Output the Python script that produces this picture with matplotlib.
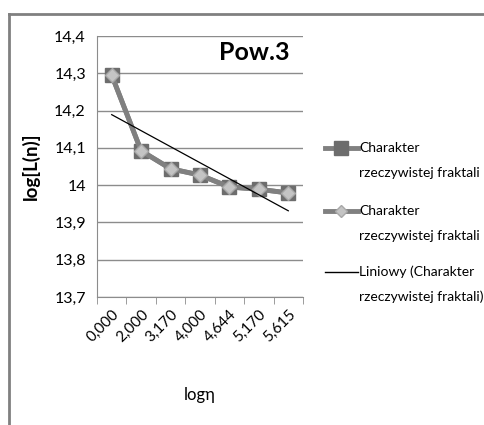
import numpy as np
import matplotlib
matplotlib.use("Agg")
import matplotlib.pyplot as plt
from matplotlib.lines import Line2D

plt.rcParams['font.family'] = ['Lato', 'DejaVu Sans']

categories = ["0,000", "2,000", "3,170", "4,000", "4,644", "5,170", "5,615"]
series_a = [14.295, 14.092, 14.044, 14.027, 13.995, 13.989, 13.979]
series_b = [14.295, 14.092, 14.044, 14.027, 13.995, 13.989, 13.979]
yticks = [13.7, 13.8, 13.9, 14.0, 14.1, 14.2, 14.3, 14.4]
ytick_labels = ["13,7", "13,8", "13,9", "14", "14,1", "14,2", "14,3", "14,4"]
series_name = ["Charakter", "rzeczywistej fraktali"]
trend_name = ["Liniowy (Charakter", "rzeczywistej fraktali)"]

W, H = 484, 425
fig = plt.figure(figsize=(W / 100, H / 100), dpi=100)
fig.patch.set_facecolor('white')


def fx(px):
    return px / W


def fy(py):
    return 1 - py / H


# chart frame (left and top edges visible)
fig.add_artist(Line2D([fx(9), fx(9)], [0, fy(14)], transform=fig.transFigure,
                      color='#808080', lw=2))
fig.add_artist(Line2D([fx(9), 1], [fy(14), fy(14)], transform=fig.transFigure,
                      color='#808080', lw=2))

ax = fig.add_axes([fx(97), fy(297), fx(303 - 97), (297 - 36) / H])
x = np.arange(1, len(categories) + 1)

ax.set_xlim(0.5, len(categories) + 0.5)
ax.set_ylim(13.7, 14.4)
ax.set_yticks(yticks)
ax.set_yticklabels(ytick_labels, fontsize=11.5)
ax.yaxis.grid(True, color='#8c8c8c', lw=1)
ax.set_axisbelow(True)
ax.tick_params(axis='y', length=0, pad=8)

ax.set_xticks(x)
ax.set_xticklabels(categories, rotation=45, ha='right', rotation_mode='anchor', fontsize=11)
ax.tick_params(axis='x', length=0, pad=7)
ax.set_xticks(np.arange(0.5, len(categories) + 1, 1), minor=True)
ax.tick_params(axis='x', which='minor', length=5, color='#8c8c8c', direction='out')

for s in ['top', 'right']:
    ax.spines[s].set_visible(False)
ax.spines['left'].set_color('#8c8c8c')
ax.spines['bottom'].set_color('#8c8c8c')

ax.plot(x, series_a, color='#808080', lw=3.5, marker='s', ms=10,
        mfc='#6d6d6d', mec='#6d6d6d', zorder=3)
ax.plot(x, series_b, color='#808080', lw=3.5, marker='D', ms=7,
        mfc='#c4c4c4', mec='#a8a8a8', zorder=4)

slope, intercept = np.polyfit(x, series_a, 1)
ax.plot(x, slope * x + intercept, color='black', lw=0.9, zorder=5)

ax.text(fx(254), fy(53), "Pow.3", transform=fig.transFigure, ha='center', va='center',
        fontsize=18, fontweight='bold')

ax.set_ylabel("log[L(n)]", fontsize=13.5, fontweight='bold', labelpad=10)
ax.set_xlabel("logη", fontsize=12, labelpad=31)

# legend, drawn entry by entry
legend_rows = [148, 211, 272]
legend_handles = [
    dict(color='#808080', lw=3.5, marker='s', ms=10, mfc='#6d6d6d', mec='#6d6d6d'),
    dict(color='#808080', lw=3.5, marker='D', ms=6, mfc='#c4c4c4', mec='#a8a8a8'),
    dict(color='black', lw=1),
]
legend_labels = [series_name, series_name, trend_name]
for row, style, label in zip(legend_rows, legend_handles, legend_labels):
    line_style = {k: v for k, v in style.items() if k in ('color', 'lw')}
    fig.add_artist(Line2D([fx(325), fx(358)], [fy(row), fy(row)],
                          transform=fig.transFigure, **line_style))
    if 'marker' in style:
        fig.add_artist(Line2D([fx(341)], [fy(row)], transform=fig.transFigure,
                              linestyle='none', marker=style['marker'], ms=style['ms'],
                              mfc=style['mfc'], mec=style['mec']))
    for i, part in enumerate(label):
        fig.text(fx(359), fy(row + 25 * i), part, ha='left', va='center', fontsize=10)

fig.savefig("out.png", dpi=100, facecolor='white')
